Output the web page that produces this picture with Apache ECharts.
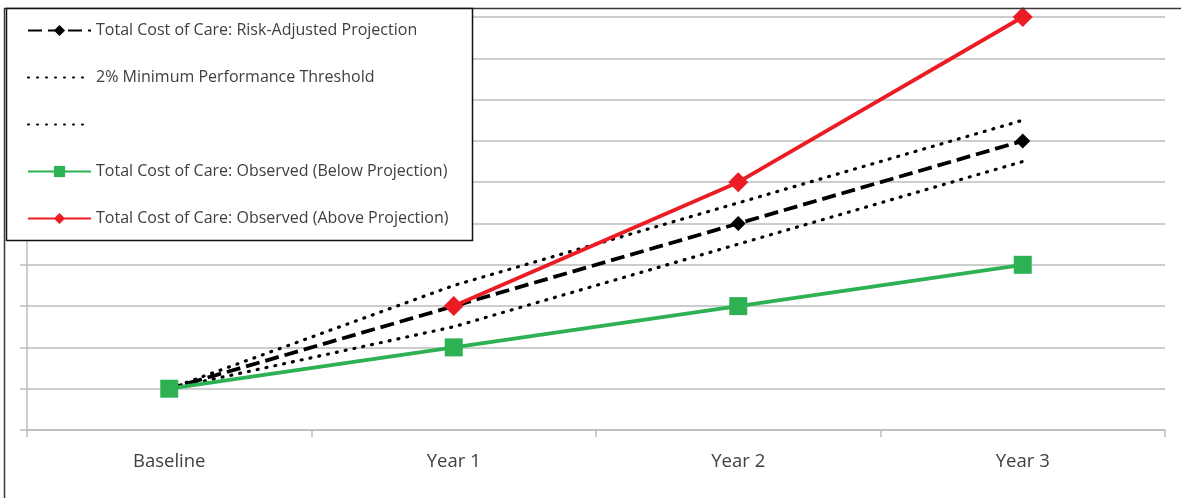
<!DOCTYPE html>
<html>
<head>
<meta charset="utf-8">
<script src="https://cdn.jsdelivr.net/npm/echarts@6/dist/echarts.min.js"></script>
<style>
  html, body { margin: 0; padding: 0; background: #fff; }
  #chart { width: 1181px; height: 498px; }
</style>
</head>
<body>
<div id="chart"></div>
<script>
// Categories along the horizontal axis
const categories = ['Baseline', 'Year 1', 'Year 2', 'Year 3'];

// Risk-adjusted projection of total cost of care
const projection = [1, 3, 5, 7];
// 2% minimum performance threshold band (upper / lower)
const thresholdUpper = [1, 3.5, 5.5, 7.5];
const thresholdLower = [1, 2.5, 4.5, 6.5];
// Observed totals
const observedBelow = [1, 2, 3, 4];
const observedAbove = [null, 3, 6, 10];

const seriesNames = [
  'Total Cost of Care: Risk-Adjusted Projection',
  '2% Minimum Performance Threshold',
  ' ',
  'Total Cost of Care: Observed (Below Projection)',
  'Total Cost of Care: Observed (Above Projection)'
];

const FONT = 'Open Sans';
const TEXT = '#404040';
const GRID = '#bdbdbd';

const dotStyle = { color: '#000', width: 3.2, type: [1, 8], cap: 'round' };

// Threshold entries show only the dotted line in the legend (no marker)
const legendData = seriesNames.map(function (name, i) {
  return (i === 1 || i === 2) ? { name: name, itemStyle: { opacity: 0 } } : { name: name };
});

const chart = echarts.init(document.getElementById('chart'), null, { renderer: 'canvas' });

chart.setOption({
  animation: false,
  backgroundColor: '#fff',
  textStyle: { fontFamily: FONT },
  grid: { left: 27, right: 16, top: 17, bottom: 68, containLabel: false },
  xAxis: {
    type: 'category',
    data: categories,
    boundaryGap: true,
    axisLine: { lineStyle: { color: GRID, width: 1.5 } },
    axisTick: { show: true, length: 7, lineStyle: { color: GRID, width: 1.5 } },
    axisLabel: { color: TEXT, fontSize: 18.5, fontFamily: FONT, margin: 22 },
    splitLine: { show: false }
  },
  yAxis: {
    type: 'value',
    min: 0,
    max: 10,
    interval: 1,
    axisLine: { show: true, lineStyle: { color: GRID, width: 1.5 } },
    axisTick: { show: true, length: 7, lineStyle: { color: GRID, width: 1.5 } },
    axisLabel: { show: false },
    splitLine: { show: true, lineStyle: { color: GRID, width: 1.5 } }
  },
  legend: {
    orient: 'vertical',
    left: 27,
    top: 22.5,
    padding: 0,
    itemWidth: 63,
    itemHeight: 14,
    itemGap: 31,
    selectedMode: false,
    z: 20,
    data: legendData,
    textStyle: { color: TEXT, fontSize: 16, fontFamily: FONT, lineHeight: 14 }
  },
  graphic: [
    {
      type: 'rect',
      z: 10,
      silent: true,
      shape: { x: 4.5, y: 8.5, width: 1300, height: 600 },
      style: { fill: null, stroke: '#3a3a3a', lineWidth: 1.5 }
    },
    {
      type: 'rect',
      z: 15,
      silent: true,
      shape: { x: 6.5, y: 8.5, width: 466, height: 232 },
      style: { fill: '#fff', stroke: '#111', lineWidth: 1.5 }
    }
  ],
  series: [
    {
      name: seriesNames[0],
      type: 'line',
      data: projection,
      symbol: 'diamond',
      symbolSize: 15,
      itemStyle: { color: '#000' },
      lineStyle: { color: '#000', width: 3.8, type: [14, 6] },
      z: 2
    },
    {
      name: seriesNames[1],
      type: 'line',
      data: thresholdUpper,
      symbol: 'none',
      itemStyle: { color: '#000' },
      lineStyle: dotStyle,
      z: 2
    },
    {
      name: seriesNames[2],
      type: 'line',
      data: thresholdLower,
      symbol: 'none',
      itemStyle: { color: '#000' },
      lineStyle: dotStyle,
      z: 2
    },
    {
      name: seriesNames[3],
      type: 'line',
      data: observedBelow,
      symbol: 'rect',
      symbolSize: 18,
      itemStyle: { color: '#2db152' },
      lineStyle: { color: '#2db152', width: 3.8 },
      z: 3
    },
    {
      name: seriesNames[4],
      type: 'line',
      data: observedAbove,
      symbol: 'diamond',
      symbolSize: 20,
      itemStyle: { color: '#ec1c24' },
      lineStyle: { color: '#ec1c24', width: 3.8 },
      z: 4
    }
  ]
});
</script>
</body>
</html>
